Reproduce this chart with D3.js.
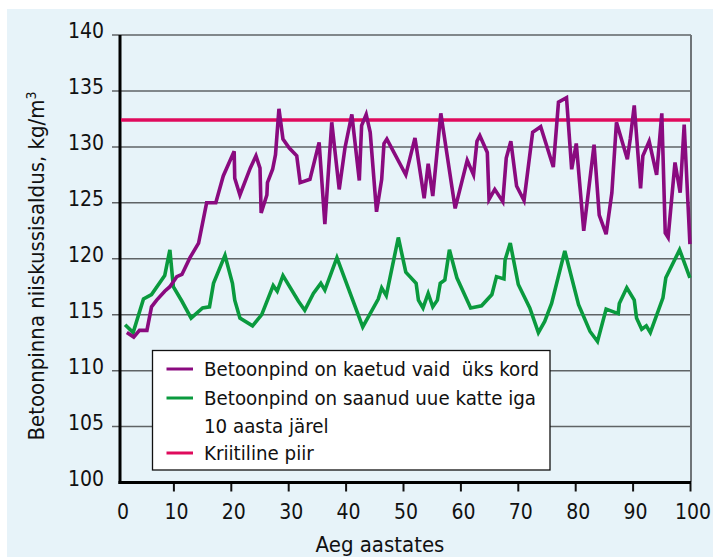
<!DOCTYPE html>
<html>
<head>
<meta charset="utf-8">
<script src="https://cdn.jsdelivr.net/npm/d3@7"></script>
<style>
  html, body { margin: 0; padding: 0; background: #fff; }
  svg { display: block; }
</style>
</head>
<body>
<div id="chart"></div>
<script>
// values
var purpleYears = [1.8, 3.0, 4.0, 5.3, 6.1, 7.0, 8.4, 9.3, 10.5, 11.4, 12.8, 14.3, 15.7, 17.3, 18.6, 20.5, 20.6, 21.5, 23.3, 24.3,
  25.0, 25.2, 26.2, 26.3, 27.2, 27.7, 28.3, 29.0, 30.1, 31.4, 32.0, 33.7, 35.3, 36.3, 37.5, 38.8, 39.8, 41.0, 42.3, 42.7,
  43.5, 44.2, 45.3, 46.2, 46.6, 47.1, 50.4, 52.0, 53.6, 54.3, 55.1, 56.5, 59.0, 61.1, 62.2, 62.8, 63.3, 64.6, 64.9, 65.9,
  67.3, 67.9, 68.7, 69.7, 71.0, 72.5, 73.9, 76.1, 77.0, 78.4, 79.3, 80.1, 81.4, 83.2, 84.1, 85.3, 86.3, 87.1, 89.0, 89.5,
  90.2, 91.3, 91.7, 92.8, 94.1, 95.0, 95.6, 96.1, 97.3, 98.2, 98.9, 99.9];
var purpleValues = [113.4, 113.0, 113.6, 113.6, 115.7, 116.3, 117.1, 117.5, 118.4, 118.6, 120.1, 121.4, 125.0, 125.0, 127.4, 129.6, 127.2, 125.7, 128.1, 129.2,
  128.1, 124.1, 125.7, 126.8, 128.0, 129.3, 133.4, 130.7, 129.9, 129.2, 126.8, 127.1, 130.4, 123.1, 132.2, 126.2, 129.9, 132.9, 127.0, 131.9,
  132.9, 131.3, 124.2, 127.1, 130.3, 130.7, 127.5, 130.8, 125.4, 128.5, 125.6, 133.0, 124.5, 128.8, 127.5, 130.5, 131.0, 129.5, 125.3, 126.2,
  125.1, 129.0, 130.5, 126.5, 125.2, 131.3, 131.8, 128.2, 134.0, 134.4, 128.0, 130.3, 122.5, 130.2, 123.9, 122.2, 125.9, 132.2, 128.9, 130.7,
  133.7, 126.3, 129.2, 130.5, 127.5, 133.0, 122.3, 121.9, 128.6, 125.9, 132.0, 121.3];

var greenYears = [1.5, 2.9, 4.7, 6.1, 8.4, 9.3, 9.9, 11.4, 13.0, 15.0, 16.2, 16.9, 18.9, 20.2, 20.6, 21.5, 23.7, 25.3, 27.3, 28.0,
  29.0, 31.7, 32.8, 34.3, 35.6, 36.3, 38.4, 42.9, 45.6, 46.2, 47.0, 49.1, 50.4, 52.2, 52.6, 53.4, 54.3, 55.1, 55.9, 56.4,
  57.2, 58.0, 59.3, 61.7, 63.6, 65.4, 66.2, 67.5, 67.7, 68.6, 70.0, 72.0, 73.5, 74.6, 75.8, 78.1, 80.5, 82.5, 83.8, 85.3,
  87.4, 87.6, 88.9, 90.2, 90.6, 91.5, 92.3, 93.0, 95.2, 95.7, 98.1, 99.9];
var greenValues = [114.1, 113.4, 116.4, 116.8, 118.5, 120.8, 117.5, 116.2, 114.7, 115.6, 115.7, 117.8, 120.3, 117.8, 116.3, 114.7, 114.0, 115.0, 117.6, 117.1,
  118.5, 116.2, 115.4, 116.9, 117.8, 117.2, 120.1, 113.9, 116.4, 117.4, 116.7, 121.9, 118.8, 117.8, 116.3, 115.6, 116.9, 115.7, 116.3, 117.8,
  118.1, 120.8, 118.3, 115.6, 115.8, 116.8, 118.4, 118.2, 119.9, 121.4, 117.7, 115.6, 113.4, 114.4, 116.0, 120.7, 115.9, 113.5, 112.6, 115.5,
  115.1, 116.0, 117.4, 116.3, 114.7, 113.7, 114.0, 113.4, 116.5, 118.3, 120.8, 118.3];

var criticalLevel = 132.4;

var yTicks = [100, 105, 110, 115, 120, 125, 130, 135, 140];
var xTicks = [0, 10, 20, 30, 40, 50, 60, 70, 80, 90, 100];

var legendLabels = [
  ["Betoonpind on kaetud vaid  üks kord"],
  ["Betoonpind on saanud uue katte iga", "10 aasta järel"],
  ["Kriitiline piir"]
];

var width = 713, height = 557;
var font = "'Liberation Sans Narrow', 'DejaVu Sans Condensed', 'Roboto Condensed', Roboto, sans-serif";
var purple = "#8a0a7f", green = "#0a9a3e", pink = "#df0a5c";

var svg = d3.select("#chart").append("svg")
    .attr("width", width)
    .attr("height", height)
    .style("font-family", font);

// light blue panel
svg.append("rect")
    .attr("x", 7).attr("y", 9)
    .attr("width", width - 7).attr("height", height - 9)
    .attr("fill", "#e7f3f9");

var x = d3.scaleLinear().domain([0, 100]).range([116.5, 690.5]);
var y = d3.scaleLinear().domain([100, 140]).range([482.5, 35]);
var axisX = 120, right = 691;

// grid lines (also act as y ticks)
svg.append("g").selectAll("line")
    .data(yTicks.slice(1))
    .enter().append("line")
    .attr("x1", 112).attr("x2", right)
    .attr("y1", function(d) { return y(d); })
    .attr("y2", function(d) { return y(d); })
    .attr("stroke", "#5f6366")
    .attr("stroke-width", 1.5);

// right border
svg.append("line")
    .attr("x1", right).attr("x2", right)
    .attr("y1", y(140)).attr("y2", y(100))
    .attr("stroke", "#6f7478").attr("stroke-width", 2);

// y labels
svg.append("g").selectAll("text")
    .data(yTicks)
    .enter().append("text")
    .attr("x", 104)
    .attr("y", function(d) { return y(d) - 4; })
    .attr("dy", "0.35em")
    .attr("text-anchor", "end")
    .attr("font-size", 21)
    .attr("fill", "#111")
    .text(function(d) { return d; });

// x ticks + labels
svg.append("g").selectAll("line")
    .data(xTicks.slice(1))
    .enter().append("line")
    .attr("x1", function(d) { return x(d); })
    .attr("x2", function(d) { return x(d); })
    .attr("y1", y(100)).attr("y2", y(100) + 9)
    .attr("stroke", "#111").attr("stroke-width", 2);

svg.append("g").selectAll("text")
    .data(xTicks)
    .enter().append("text")
    .attr("x", function(d) { return d === 0 ? 123 : x(d) + 2.5; })
    .attr("y", 519)
    .attr("text-anchor", "middle")
    .attr("font-size", 21)
    .attr("fill", "#111")
    .text(function(d) { return d; });

// axes lines
svg.append("line")
    .attr("x1", axisX).attr("x2", axisX)
    .attr("y1", y(140)).attr("y2", y(100) + 1.5)
    .attr("stroke", "#000").attr("stroke-width", 3);
svg.append("line")
    .attr("x1", axisX - 1.5).attr("x2", right)
    .attr("y1", y(100)).attr("y2", y(100))
    .attr("stroke", "#000").attr("stroke-width", 3);

// axis titles
svg.append("text")
    .attr("x", 380).attr("y", 552)
    .attr("text-anchor", "middle")
    .attr("font-size", 22)
    .attr("fill", "#111")
    .text("Aeg aastates");

var yt = svg.append("text")
    .attr("transform", "translate(44,266) rotate(-90)")
    .attr("text-anchor", "middle")
    .attr("font-size", 22)
    .attr("fill", "#111");
yt.append("tspan").text("Betoonpinna niiskussisaldus, kg/m");
yt.append("tspan").attr("dy", -8).attr("font-size", 14).text("3");

// series
var line = d3.line()
    .x(function(d) { return x(d[0]); })
    .y(function(d) { return y(d[1]); });

svg.append("line")
    .attr("x1", axisX + 1).attr("x2", right - 1)
    .attr("y1", y(criticalLevel)).attr("y2", y(criticalLevel))
    .attr("stroke", pink).attr("stroke-width", 3.4);

svg.append("path")
    .datum(d3.zip(greenYears, greenValues))
    .attr("d", line)
    .attr("fill", "none")
    .attr("stroke", green)
    .attr("stroke-width", 3.6)
    .attr("stroke-linejoin", "miter");

svg.append("path")
    .datum(d3.zip(purpleYears, purpleValues))
    .attr("d", line)
    .attr("fill", "none")
    .attr("stroke", purple)
    .attr("stroke-width", 3.6)
    .attr("stroke-linejoin", "miter");

// legend
var lg = svg.append("g");
lg.append("rect")
    .attr("x", 152.5).attr("y", 350.5)
    .attr("width", 397.5).attr("height", 119.5)
    .attr("fill", "#fff")
    .attr("stroke", "#111").attr("stroke-width", 1.3);

var legendColors = [purple, green, pink];
var rowY = [369, 398, 453];
legendLabels.forEach(function(lines, i) {
  lg.append("line")
      .attr("x1", 166.5).attr("x2", 193)
      .attr("y1", rowY[i]).attr("y2", rowY[i])
      .attr("stroke", legendColors[i]).attr("stroke-width", 3);
  lines.forEach(function(t, j) {
    lg.append("text")
        .attr("x", 204)
        .attr("y", rowY[i] + j * 28)
        .attr("dy", "0.35em")
        .attr("font-size", 20.3)
        .attr("fill", "#111")
        .style("white-space", "pre")
        .text(t);
  });
});
</script>
</body>
</html>
